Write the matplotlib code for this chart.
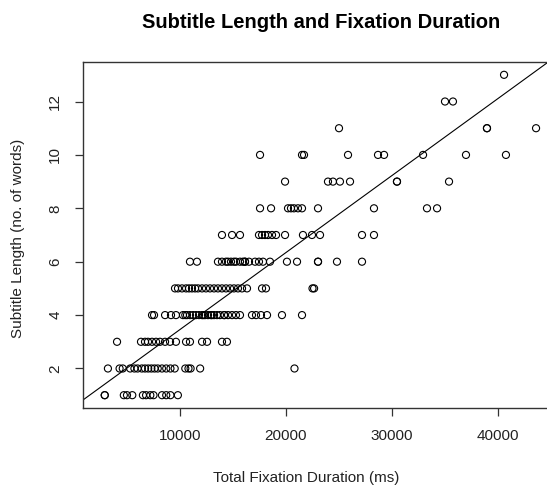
import matplotlib
matplotlib.use("Agg")
import matplotlib.pyplot as plt

plt.rcParams['font.family'] = ['Liberation Sans', 'DejaVu Sans']

# total fixation duration (ms) per subtitle, grouped by subtitle length (words)
dur_1w = [2900, 2900, 4700, 5000, 5500, 6500, 6800, 7200, 7500, 8300, 8700, 9100, 9800]
dur_2w = [3200, 4300, 4600, 5300, 5700, 6000, 6400, 6700, 7000, 7300, 7600, 7900,
          8300, 8700, 9100, 9500, 10500, 10800, 11000, 11900, 20800]
dur_3w = [4060, 6320, 6700, 6980, 7360, 7740, 8110, 8590, 9060, 9620, 10570, 10940,
          12080, 12550, 13960, 14430]
dur_4w = [7360, 7550, 8590, 9150, 9620, 10280, 10500, 10660, 10940, 11230, 11510, 11790,
          12080, 12200, 12360, 12640, 12920, 13000, 13210, 13490, 13770, 14150, 14200,
          14530, 14910, 15280, 15660, 16790, 17170, 17640, 18210, 19620, 21510]
dur_5w = [9530, 9810, 10190, 10570, 10850, 11130, 11420, 11700, 12080, 12450, 12830,
          13210, 13580, 13960, 14340, 14720, 15090, 15470, 15850, 16320, 17740, 18110,
          22500, 22650]
dur_6w = [10940, 11600, 13580, 13960, 14340, 14530, 14810, 15090, 15280, 15660, 15940,
          16130, 16130, 16510, 17080, 17450, 17830, 18490, 20090, 21040, 23020, 23020,
          24810, 27170]
dur_7w = [13960, 14910, 15660, 17450, 17740, 18020, 18300, 18680, 19060, 19910, 21600,
          22450, 23210, 27170, 28300]
dur_8w = [17550, 18590, 20190, 20470, 20750, 21130, 21510, 23020, 28300, 33300, 34250]
dur_9w = [19910, 23960, 24430, 25090, 26040, 30470, 30470, 35380]
dur_10w = [17550, 21510, 21700, 25850, 28680, 29250, 32930, 36980, 40750]
dur_11w = [25000, 38960, 38960, 43590]
dur_12w = [35000, 35750]
dur_13w = [40570]

groups = [dur_1w, dur_2w, dur_3w, dur_4w, dur_5w, dur_6w, dur_7w,
          dur_8w, dur_9w, dur_10w, dur_11w, dur_12w, dur_13w]

# fitted line (lm)
fit_intercept = 0.576
fit_slope = 0.0002884

x_ticks = [10000, 20000, 30000, 40000]
y_ticks = [2, 4, 6, 8, 10, 12]

fix_dur = []
n_words = []
for i, g in enumerate(groups):
    fix_dur += g
    n_words += [i + 1] * len(g)

fig = plt.figure(figsize=(5.47, 4.86), dpi=100)
ax = fig.add_axes([83/547, 1 - 408/486, 470/547, 346/486])

ax.scatter(fix_dur, n_words, s=26, facecolors='none', edgecolors='black', linewidths=0.8)
ax.axline((0, fit_intercept), slope=fit_slope, color='black', lw=0.8)

ax.set_xlim(849, 45189)
ax.set_ylim(0.52, 13.48)
ax.set_xticks(x_ticks)
ax.set_yticks(y_ticks)
ax.tick_params(direction='out', length=6, width=0.9, labelsize=11,
               color='#333333', labelcolor='#222222', pad=9)
plt.setp(ax.get_yticklabels(), rotation=90, va='center')
for s in ax.spines.values():
    s.set_color('#333333')
    s.set_linewidth(1)

ax.set_title("Subtitle Length and Fixation Duration", fontsize=14.5, fontweight='bold',
             x=0.506, y=1.113, va='center', pad=0)
ax.set_xlabel("Total Fixation Duration (ms)", fontsize=11, color='#222222')
ax.xaxis.set_label_coords(0.474, -0.202)
ax.set_ylabel("Subtitle Length (no. of words)", fontsize=11, color='#222222')
ax.yaxis.set_label_coords(-0.138, 0.49)
ax.xaxis.label.set_va('center')
ax.yaxis.label.set_va('center')

fig.savefig("out.png", dpi=100)
